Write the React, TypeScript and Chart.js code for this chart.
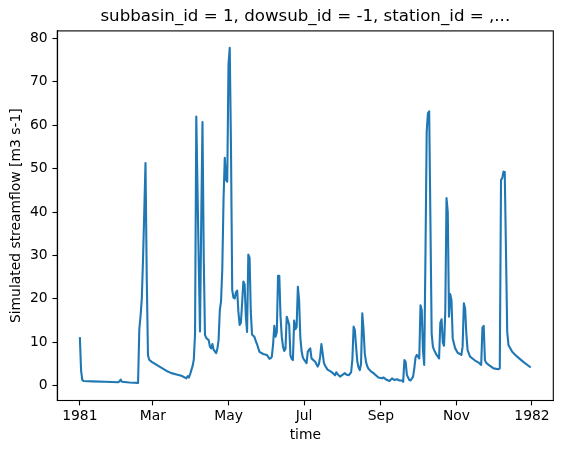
import React, { useEffect, useRef } from "react";
import { Chart, registerables } from "chart.js";

Chart.register(...registerables);

const days = [0,1,2,3,10,20,31,32,33,34,40,47,48,49,50,51,52,53,54,55,56,58,62,66,70,74,78,82,86,87,88,89,90,91,92,93,94,95,96,97,98,99,100,101,102,104,105,106,107,108,110,111,112,113,114,115,116,117,118,119,120,121,122,123,124,125,126,127,128,129,130,131,132,133,134,135,136,137,138,139,140,141,142,143,145,148,151,153,154,155,156,157,158,159,160,161,162,163,164,165,166,167,168,169,170,171,172,173,174,175,176,177,178,179,180,181,183,184,185,186,187,190,192,193,194,195,196,197,198,200,203,205,206,207,208,210,212,214,215,217,219,220,221,222,223,224,225,226,227,228,229,230,231,232,233,235,237,241,244,245,248,250,252,254,256,258,260,261,262,263,264,266,267,269,270,271,272,274,275,276,277,278,279,280,281,282,283,284,285,286,288,290,291,292,293,294,295,296,297,298,299,300,301,303,305,308,309,310,311,312,313,315,319,322,324,325,326,327,328,330,334,338,339,340,341,342,343,344,345,346,349,353,358,364];

const flow = [11.2,3.5,1.3,1.1,1.0,0.9,0.8,1.0,1.4,0.9,0.75,0.65,13,16,20,29,40,51.3,25,7,6,5.5,4.8,4.1,3.4,2.9,2.6,2.3,1.7,2.2,1.9,2.6,3.6,4.5,6,12,62,45,28,12.5,38,60.7,30,11.7,11,10.5,9,8.6,9.6,8.3,7.5,8.5,10.5,17.4,19.5,27,43,52.5,47.4,47,74,77.8,55,22,20.3,20.1,21.5,21.9,17,14,14.5,19,24,23.4,16,12.4,30.2,29.5,17,11.8,11.5,11.2,10.3,9.6,7.8,7.3,7.1,6.2,6.3,6.7,9.5,13.8,11.3,12.3,25.3,25.3,16,11.3,9,8,8.5,15.9,15,14,7,6.2,5.9,15,13,13.5,22.8,19.7,11,8,6.5,6,5.2,7.8,8.3,8.6,6.3,5.5,4.4,5,6.7,9.6,7.5,5.3,4.6,3.7,3.2,2.7,2.4,3.1,2.7,2.1,2.5,2.9,2.6,2.4,3.1,6,13.6,12.8,9,5.5,4.2,3.6,5,16.7,13,7.5,5.5,4.5,3.9,3.3,2.9,1.9,1.7,1.9,1.3,1.1,1.7,1.3,1.5,1.2,1.2,0.9,5.9,5.5,2.5,1.3,1.2,2.1,4,6.5,7.1,6.3,18.5,17.4,8,4.8,30,58.5,62.8,63.2,38,12,9,8.2,7.1,6.3,14.5,15.3,10,9.2,17,43.2,40,15.9,21.1,19.7,10.9,8.6,7.6,7.1,9,19,17.8,12,8.2,6.7,5.8,5.3,4.8,13.4,13.8,5.9,5.3,4.8,4,3.8,4,47.4,47.8,49.3,49.2,31,12.4,9.4,7.8,6.7,5.5,4.2];

const xTickDays = [0, 59, 120, 181, 243, 304, 365];
const xTickLabels = ["1981", "Mar", "May", "Jul", "Sep", "Nov", "1982"];
const yTickValues = [0, 10, 20, 30, 40, 50, 60, 70, 80];

const titleText = "subbasin_id = 1, dowsub_id = -1, station_id = ,...";
const yTitle = "Simulated streamflow [m3 s-1]";
const xTitle = "time";

const FONT = "'DejaVu Sans', sans-serif";

const framePlugin = {
  id: "frame",
  afterDraw(chart: any) {
    const { ctx, chartArea } = chart;
    ctx.save();
    ctx.strokeStyle = "#000";
    ctx.lineWidth = 1.1;
    ctx.strokeRect(chartArea.left, chartArea.top, chartArea.right - chartArea.left, chartArea.bottom - chartArea.top);
    ctx.restore();
  },
};

export default function App() {
  const ref = useRef<HTMLCanvasElement | null>(null);
  useEffect(() => {
    if (!ref.current) return;
    const chart = new Chart(ref.current, {
      type: "line",
      data: {
        datasets: [
          {
            data: days.map((d, i) => ({ x: d, y: flow[i] })),
            borderColor: "#1f77b4",
            borderWidth: 2.1,
            borderJoinStyle: "round",
            borderCapStyle: "butt",
            pointRadius: 0,
            tension: 0,
            fill: false,
          },
        ],
      },
      options: {
        responsive: false,
        animation: false,
        devicePixelRatio: 1,
        parsing: false,
        layout: { padding: { left: 0, top: 0, right: 9.7, bottom: 0 } },
        plugins: {
          legend: { display: false },
          tooltip: { enabled: false },
          title: {
            display: true,
            text: titleText,
            fullSize: false,
            color: "#000",
            font: { family: FONT, size: 16.67, weight: "normal" },
            padding: { top: 6.8, bottom: 4.1 },
          },
        },
        scales: {
          x: {
            type: "linear",
            min: -18.2,
            max: 382.2,
            afterBuildTicks: (s: any) => {
              s.ticks = xTickDays.map((v) => ({ value: v }));
            },
            afterFit: (s: any) => {
              s.height = 52.5;
            },
            ticks: {
              autoSkip: false,
              maxRotation: 0,
              minRotation: 0,
              padding: 2.3,
              color: "#000",
              font: { family: FONT, size: 13.89 },
              callback: (v: any) => {
                const i = xTickDays.indexOf(Number(v));
                return i >= 0 ? xTickLabels[i] : "";
              },
            },
            grid: {
              drawOnChartArea: false,
              drawTicks: true,
              tickLength: 4.86,
              tickColor: "#000",
              tickWidth: 1.1,
            },
            border: { display: true, color: "#000", width: 1.1 },
            title: {
              display: true,
              text: xTitle,
              color: "#000",
              font: { family: FONT, size: 13.89 },
              padding: { top: 0, bottom: 9.3 },
            },
          },
          y: {
            type: "linear",
            min: -3.4,
            max: 81.7,
            afterBuildTicks: (s: any) => {
              s.ticks = yTickValues.map((v) => ({ value: v }));
            },
            afterFit: (s: any) => {
              s.width = 57.3;
            },
            ticks: {
              padding: 4.86,
              color: "#000",
              font: { family: FONT, size: 13.89 },
              callback: (v: any) => String(v),
            },
            grid: {
              drawOnChartArea: false,
              drawTicks: true,
              tickLength: 4.86,
              tickColor: "#000",
              tickWidth: 1.1,
            },
            border: { display: true, color: "#000", width: 1.1 },
            title: {
              display: true,
              text: yTitle,
              color: "#000",
              font: { family: FONT, size: 13.89 },
              padding: { top: 7.9, bottom: 0 },
            },
          },
        },
      },
      plugins: [framePlugin],
    } as any);
    return () => chart.destroy();
  }, []);
  return (
    <div style={{ position: "absolute", left: 0, top: 0, width: 563, height: 453, background: "#fff" }}>
      <canvas ref={ref} width={563} height={453} style={{ display: "block" }} />
    </div>
  );
}
